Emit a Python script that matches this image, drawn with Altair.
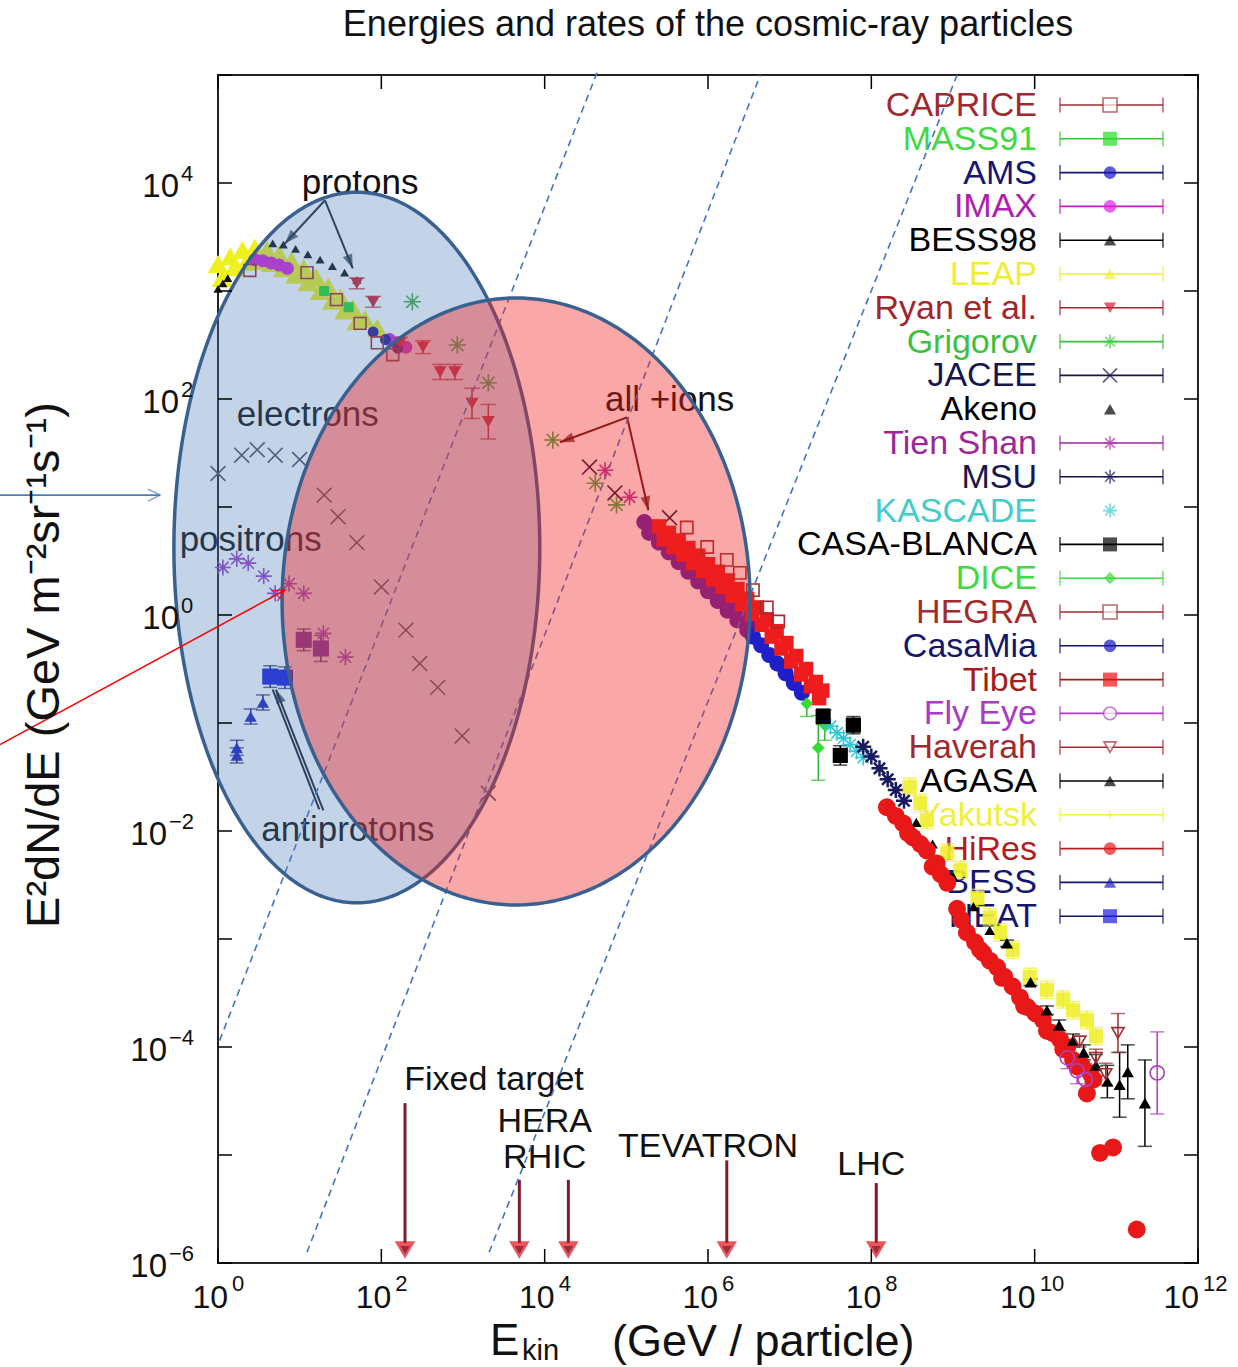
import math
import numpy as np
import pandas as pd
import altair as alt

# ---------------- layout ----------------
W, H = 980, 1188
LX0, LX1 = 0, 12          # log10 of x-domain (GeV)
LY0, LY1 = -6, 5          # log10 of y-domain
PXD = W / (LX1 - LX0)
PYD = H / (LY1 - LY0)
FONT = "Liberation Sans"

# ---------------- data (log10 E_kin [GeV], log10 E^2 dN/dE) ----------------
# protons / low energy
BESS98_LX = [0.00, 0.06, 0.12, 0.67, 0.80, 0.95, 1.10, 1.25, 1.40, 1.55, 1.70]
BESS98_LY = [3.02, 3.07, 3.12, 3.44, 3.43, 3.39, 3.34, 3.29, 3.23, 3.17, 3.10]
LEAP_LX = [0.00, 0.15, 0.30, 0.45, 0.60, 0.75, 0.90, 1.05, 1.20, 1.35, 1.50, 1.65, 1.80, 1.95,
           0.05, 0.20, 0.35, 0.50, 0.65, 0.80, 0.95, 1.10, 1.25, 1.40, 1.55, 1.70]
LEAP_LY = [3.25, 3.32, 3.38, 3.40, 3.38, 3.34, 3.28, 3.21, 3.13, 3.04, 2.94, 2.84, 2.74, 2.66,
           3.12, 3.22, 3.27, 3.28, 3.26, 3.21, 3.15, 3.08, 3.00, 2.91, 2.82, 2.72]
MASS91_LX = [1.30, 1.60]
MASS91_LY = [3.00, 2.85]
AMS_LX = [1.90, 2.05, 2.20]
AMS_LY = [2.62, 2.55, 2.47]
IMAX_LX = [0.45, 0.55, 0.65, 0.75, 0.85, 2.10, 2.20, 2.30]
IMAX_LY = [3.29, 3.28, 3.26, 3.24, 3.21, 2.55, 2.52, 2.48]
CAPRICE_LX = [0.39, 1.09, 1.45, 1.74, 1.95, 2.14]
CAPRICE_LY = [3.19, 3.17, 2.92, 2.70, 2.52, 2.41]
RYAN_LX = [1.70, 1.90, 2.23, 2.51, 2.72, 2.90, 3.11, 3.31]
RYAN_LY = [3.07, 2.90, 2.52, 2.48, 2.25, 2.25, 1.96, 1.79]
RYAN_ERR = [0.05, 0.05, 0.05, 0.06, 0.07, 0.07, 0.14, 0.16]
GRIGOROV_LX = [2.38, 2.93, 3.31, 4.10, 4.62, 4.88]
GRIGOROV_LY = [2.90, 2.50, 2.15, 1.62, 1.22, 1.02]

# electrons, positrons, antiprotons
ELECTRON_LX = [0.00, 0.29, 0.48, 0.70, 1.00, 1.30, 1.47, 1.70, 2.00, 2.30, 2.47, 2.69, 2.99, 3.31]
ELECTRON_LY = [1.31, 1.48, 1.53, 1.48, 1.44, 1.11, 0.91, 0.67, 0.26, -0.14, -0.45, -0.67, -1.12, -1.65]
POSITRON_LX = [0.06, 0.23, 0.37, 0.56, 0.70, 0.87, 1.05, 1.29, 1.56]
POSITRON_LY = [0.44, 0.52, 0.48, 0.36, 0.20, 0.29, 0.20, -0.17, -0.39]
BESS_LX = [0.23, 0.23, 0.40, 0.55]
BESS_LY = [-1.23, -1.30, -0.94, -0.81]
BESS_ERR = [0.07, 0.07, 0.07, 0.07]
HEAT_LX = [0.64, 0.82]
HEAT_LY = [-0.57, -0.58]
HEAT_ERR = [0.10, 0.10]
PBAR2_LX = [1.05, 1.26]
PBAR2_LY = [-0.23, -0.31]
PBAR2_ERR = [0.10, 0.12]

# all particle / ions
JACEE_LX = [4.55, 4.86, 5.53]
JACEE_LY = [1.37, 1.13, 0.90]
TIENSHAN_LX = [4.74, 5.04]
TIENSHAN_LY = [1.34, 1.09]
TIBET_LX = [5.40, 5.52, 5.64, 5.76, 5.88, 6.00, 6.12, 6.24, 6.36, 6.48, 6.60, 6.72, 6.84, 6.96, 7.08, 7.20, 7.32, 7.40,
            5.46, 5.58, 5.70, 5.82, 5.94, 6.06, 6.18, 6.30, 6.42, 6.54, 6.66, 6.78, 6.90, 7.02, 7.14, 7.26, 7.36]
TIBET_LY = [0.82, 0.76, 0.69, 0.62, 0.55, 0.47, 0.40, 0.32, 0.24, 0.15, 0.07, -0.04, -0.15, -0.26, -0.38, -0.50, -0.62, -0.70,
            0.70, 0.63, 0.56, 0.48, 0.41, 0.33, 0.26, 0.18, 0.10, 0.01, -0.09, -0.20, -0.31, -0.43, -0.55, -0.66, -0.77]
VIOLET_LX = [5.22, 5.34, 5.46, 5.58, 5.70, 5.82, 5.94, 6.06, 6.18, 6.30, 6.42, 6.54,
             5.28, 5.40, 5.52, 5.64, 5.76, 5.88, 6.00, 6.12, 6.24, 6.36, 6.48]
VIOLET_LY = [0.86, 0.77, 0.68, 0.59, 0.50, 0.41, 0.32, 0.23, 0.14, 0.06, -0.03, -0.12,
             0.76, 0.67, 0.58, 0.49, 0.40, 0.31, 0.22, 0.13, 0.04, -0.05, -0.14]
CASAMIA_LX = [6.55, 6.65, 6.75, 6.85, 6.95, 7.05, 7.15]
CASAMIA_LY = [-0.20, -0.28, -0.37, -0.45, -0.54, -0.63, -0.72]
HEGRA_LX = [5.74, 5.99, 6.23, 6.39, 6.55, 6.72, 6.86]
HEGRA_LY = [0.81, 0.63, 0.51, 0.39, 0.23, 0.07, -0.06]
CASABLANCA_LX = [7.41, 7.62, 7.78]
CASABLANCA_LY = [-0.94, -1.30, -1.02]
CASABLANCA_ERR = [0.07, 0.09, 0.08]
DICE_LX = [7.21, 7.35, 7.43]
DICE_LY = [-0.82, -1.23, -1.02]
DICE_ERR = [0.12, 0.30, 0.14]
KASCADE_LX = [7.50, 7.58, 7.66, 7.74, 7.82, 7.90]
KASCADE_LY = [-1.03, -1.09, -1.14, -1.20, -1.26, -1.32]
MSU_LX = [7.90, 8.00, 8.10, 8.20, 8.30, 8.40]
MSU_LY = [-1.22, -1.31, -1.42, -1.52, -1.62, -1.72]
YAKUTSK_LX = [8.47, 8.60, 8.68, 8.93, 9.09, 9.30, 9.45, 9.58, 9.73, 9.94, 10.15, 10.35, 10.47, 10.64, 10.75]
YAKUTSK_LY = [-1.59, -1.74, -1.90, -2.20, -2.36, -2.62, -2.80, -2.94, -3.10, -3.35, -3.47, -3.56, -3.66, -3.75, -3.90]
AKENO_LX = [8.55, 8.75, 9.00, 9.25, 9.45]
AKENO_LY = [-1.92, -2.12, -2.42, -2.70, -2.92]
HIRES_LX = [8.19, 8.30, 8.39, 8.51, 8.60, 8.68, 8.75, 8.85, 8.93, 9.05, 9.17, 9.27, 9.37, 9.45, 9.54, 9.63,
            9.73, 9.82, 9.91, 10.01, 10.10, 10.22, 10.31, 10.40, 10.47, 10.57, 10.68, 10.64, 10.80, 10.96, 11.25,
            8.45, 8.80, 9.10, 9.33, 9.60, 9.87, 10.15, 10.35, 10.52, 10.72]
HIRES_LY = [-1.78, -1.86, -1.93, -2.06, -2.12, -2.18, -2.33, -2.40, -2.48, -2.72, -2.94, -3.03, -3.13, -3.20, -3.26, -3.35,
            -3.44, -3.54, -3.63, -3.69, -3.75, -3.87, -3.93, -4.00, -4.12, -4.16, -4.24, -4.43, -4.98, -4.93, -5.69,
            -2.02, -2.30, -2.82, -3.10, -3.36, -3.62, -3.85, -4.02, -4.18, -4.30]
AGASA_LX = [9.66, 9.95, 10.15, 10.30, 10.47, 10.60, 10.75, 10.89, 11.04, 11.14, 11.35]
AGASA_LY = [-3.04, -3.40, -3.66, -3.80, -3.94, -4.05, -4.17, -4.32, -4.35, -4.23, -4.52]
AGASA_ERR = [0.03, 0.03, 0.04, 0.05, 0.06, 0.07, 0.10, 0.15, 0.30, 0.25, 0.40]
HAVERAH_LX = [10.55, 10.75, 10.87, 11.02]
HAVERAH_LY = [-3.95, -4.10, -4.25, -3.87]
HAVERAH_ERR = [0.05, 0.08, 0.10, 0.18]
FLYEYE_LX = [10.40, 10.52, 10.62, 11.50]
FLYEYE_LY = [-4.10, -4.22, -4.30, -4.24]
FLYEYE_ERR = [0.10, 0.12, 0.15, 0.38]

# legend
LEG_NAMES = ["CAPRICE", "MASS91", "AMS", "IMAX", "BESS98", "LEAP", "Ryan et al.", "Grigorov", "JACEE",
             "Akeno", "Tien Shan", "MSU", "KASCADE", "CASA-BLANCA", "DICE", "HEGRA", "CasaMia", "Tibet",
             "Fly Eye", "Haverah", "AGASA", "Yakutsk", "HiRes", "BESS", "HEAT"]
LEG_TEXT_COLORS = ["#9e2a30", "#44d844", "#151575", "#b020b0", "#000000", "#eeee33", "#a3242c", "#3fbf3f",
                   "#15154f", "#000000", "#9a2898", "#15154f", "#44cccc", "#000000", "#44d844", "#a32b30",
                   "#151570", "#a01e1e", "#a83cc4", "#9e2a30", "#000000", "#eeee44", "#b01e1e", "#151570",
                   "#151570"]
LEG_SYM_COLORS = ["#a32b30", "#22dd22", "#1515c0", "#e020e0", "#000000", "#f0f030", "#d51d2a", "#33cc33",
                  "#1a1a50", "#000000", "#b030b0", "#1a1a60", "#30d0d0", "#000000", "#33dd33", "#a32b30",
                  "#1515c0", "#ee1111", "#b040c0", "#a32b30", "#000000", "#f0f040", "#e81818", "#2020c0",
                  "#1a1ae0"]
LEG_SHAPES = ["square", "square", "circle", "circle", "tri", "tri", "trid", "ast", "x", "tri", "ast", "ast",
              "ast", "square", "diamond", "square", "circle", "square", "circle", "trid", "tri", "plus",
              "circle", "tri", "square"]
LEG_STYLE = ["open", "fill", "fill", "fill", "fill", "fill", "fill", "line", "line", "fill", "line", "line",
             "line", "fill", "fill", "open", "fill", "fill", "open", "open", "fill", "line", "fill", "fill",
             "fill"]
LEG_BAR = [True] * 25
LEG_BAR[9] = False   # Akeno
LEG_BAR[12] = False  # KASCADE

# annotations
ELLIPSES = [  # centre and radii in decades
    dict(cx=1.70, cy=0.625, rx=2.24, ry=3.29, fill="#4F81BD", op=0.34),
    dict(cx=3.65, cy=0.125, rx=2.865, ry=2.81, fill="#F02323", op=0.40),
]
DASHED = [(0.02, -3.94, 4.64, 5.02), (1.09, -5.90, 6.64, 5.00), (3.32, -5.90, 9.05, 5.00)]
ACCEL_NAMES = ["Fixed target", "HERA", "RHIC", "TEVATRON", "LHC"]
ACCEL_LX = [2.29, 3.69, 4.29, 6.23, 8.06]
ACCEL_TOP = [-4.52, -5.23, -5.23, -5.05, -5.26]
ACCEL_TEXT = [("Fixed target", 3.38, -4.31), ("HERA", 4.00, -4.69), ("RHIC", 4.00, -5.03),
              ("TEVATRON", 6.00, -4.93), ("LHC", 8.00, -5.09)]
NOTE_TEXT = [("protons", 1.74, 4.00), ("electrons", 1.10, 1.85), ("positrons", 0.40, 0.69),
             ("antiprotons", 1.59, -1.99), ("all +ions", 5.53, 1.99)]

# ---------------- helpers ----------------
xsc = alt.Scale(type="log", domain=[10.0 ** LX0, 10.0 ** LX1], nice=False)
ysc = alt.Scale(type="log", domain=[10.0 ** LY0, 10.0 ** LY1], nice=False)


def XE(f="x"):
    return alt.X(f"{f}:Q", scale=xsc, axis=None)


def YE(f="y"):
    return alt.Y(f"{f}:Q", scale=ysc, axis=None)


ASTER = "M-1,0L1,0M0,-1L0,1M-0.7,-0.7L0.7,0.7M-0.7,0.7L0.7,-0.7"
XCROSS = "M-1,-1L1,1M-1,1L1,-1"
PLUS = "M-1,0L1,0M0,-1L0,1"
HBAR = "M-1,0L1,0"
VBAR = "M0,-1L0,1"
HEAD = "M0,0L-0.45,1.25L0.45,1.25Z"
VHEAD = "M-0.6,1.2L0,0L0.6,1.2"
SHAPES = {"square": "square", "circle": "circle", "tri": "triangle-up", "trid": "triangle-down",
          "diamond": "diamond", "ast": ASTER, "x": XCROSS, "plus": PLUS}


def frame(lx, ly):
    return pd.DataFrame({"x": [10.0 ** v for v in lx], "y": [10.0 ** v for v in ly]})


def points(lx, ly, shape, color, size, style="fill", sw=1.6, opacity=1.0):
    df = frame(lx, ly)
    if style == "fill":
        m = alt.Chart(df).mark_point(shape=shape, filled=True, color=color, size=size, opacity=opacity,
                                     strokeWidth=0)
    else:
        m = alt.Chart(df).mark_point(shape=shape, filled=False, color=color, size=size, opacity=opacity,
                                     strokeWidth=sw)
    return m.encode(x=XE(), y=YE())


def errbars(lx, ly, err, color, cap=12, sw=1.5):
    df = pd.DataFrame({"x": [10.0 ** v for v in lx],
                       "lo": [10.0 ** (a - e) for a, e in zip(ly, err)],
                       "hi": [10.0 ** (a + e) for a, e in zip(ly, err)]})
    base = alt.Chart(df)
    return [base.mark_rule(color=color, strokeWidth=sw).encode(x=XE(), y=YE("lo"), y2=alt.Y2("hi:Q")),
            base.mark_point(shape=HBAR, filled=False, color=color, size=cap * cap, strokeWidth=sw)
            .encode(x=XE(), y=YE("lo")),
            base.mark_point(shape=HBAR, filled=False, color=color, size=cap * cap, strokeWidth=sw)
            .encode(x=XE(), y=YE("hi"))]


def arrow(x0, y0, x1, y1, color, sw=2.0, hsize=500, open_head=False, hcolor=None):
    df = pd.DataFrame({"x": [10.0 ** x0], "y": [10.0 ** y0], "xe": [10.0 ** x1], "ye": [10.0 ** y1]})
    dxp = (x1 - x0) * PXD
    dyp = -(y1 - y0) * PYD
    ang = math.degrees(math.atan2(dxp, -dyp)) % 360
    shaft = alt.Chart(df).mark_rule(color=color, strokeWidth=sw).encode(
        x=XE(), y=YE(), x2=alt.X2("xe:Q"), y2=alt.Y2("ye:Q"))
    if open_head:
        head = alt.Chart(df).mark_point(shape=VHEAD, filled=False, color=hcolor or color, size=hsize,
                                        strokeWidth=sw, angle=ang)
    else:
        head = alt.Chart(df).mark_point(shape=HEAD, filled=True, color=hcolor or color, size=hsize,
                                        strokeWidth=0, angle=ang)
    return [shaft, head.encode(x=XE("xe"), y=YE("ye"))]


def note(text, lx, ly, size=35, color="#111111", align="center"):
    df = pd.DataFrame({"x": [10.0 ** lx], "y": [10.0 ** ly], "t": [text]})
    return alt.Chart(df).mark_text(font=FONT, fontSize=size, color=color, align=align,
                                   baseline="middle").encode(x=XE(), y=YE(), text="t:N")


def ptext(text, px, py, size, align="center", angle=0, color="#111111"):
    df = pd.DataFrame({"t": [text]})
    return alt.Chart(df).mark_text(font=FONT, fontSize=size, color=color, align=align, baseline="middle",
                                   angle=angle).encode(x=alt.value(px), y=alt.value(py), text="t:N")


layers = []

# ---------------- legend (drawn first, data goes over it) ----------------
LEG_Y0, LEG_DY = 30.0, 33.8
leg = pd.DataFrame({
    "name": LEG_NAMES, "tc": LEG_TEXT_COLORS, "sc": LEG_SYM_COLORS,
    "shape": [SHAPES[s] for s in LEG_SHAPES], "style": LEG_STYLE, "bar": LEG_BAR,
    "ly": [10.0 ** (LY1 - (LEG_Y0 + i * LEG_DY) / PYD) for i in range(len(LEG_NAMES))],
})
leg["bc"] = leg["tc"]
leg.loc[leg["name"].isin(["MASS91"]), "bc"] = "#33cc33"
leg.loc[leg["name"].isin(["IMAX"]), "bc"] = "#c020c0"
leg.loc[leg["name"].isin(["Yakutsk"]), "bc"] = "#f0f050"
leg["size"] = [196 if s in ("square", "ast", "x") else (160 if s == "circle" else (60 if s == "plus" else 150))
               for s in LEG_SHAPES]
LX_TXT, LX_B0, LX_B1, LX_SYM = 819, 842, 945, 892
barred = leg[leg["bar"]]
layers.append(alt.Chart(leg).mark_text(font=FONT, fontSize=34, align="right", baseline="middle", dy=1).encode(
    x=alt.value(LX_TXT), y=YE("ly"), text="name:N", color=alt.Color("tc:N", scale=None)))
layers.append(alt.Chart(barred).mark_rule(strokeWidth=1.6).encode(
    x=alt.value(LX_B0), x2=alt.value(LX_B1), y=YE("ly"), color=alt.Color("bc:N", scale=None)))
for xv in (LX_B0, LX_B1):
    layers.append(alt.Chart(barred).mark_point(shape=VBAR, filled=False, size=225, strokeWidth=1.6).encode(
        x=alt.value(xv), y=YE("ly"), color=alt.Color("bc:N", scale=None)))
fill_rows = leg[leg["style"] == "fill"]
open_rows = leg[leg["style"] == "open"]
line_rows = leg[leg["style"] == "line"]
layers.append(alt.Chart(fill_rows).mark_point(filled=True, strokeWidth=0).encode(
    x=alt.value(LX_SYM), y=YE("ly"), shape=alt.Shape("shape:N", scale=None),
    color=alt.Color("sc:N", scale=None), size=alt.Size("size:Q", scale=None)))
layers.append(alt.Chart(open_rows).mark_point(filled=True, strokeWidth=0, color="white").encode(
    x=alt.value(LX_SYM), y=YE("ly"), shape=alt.Shape("shape:N", scale=None), size=alt.Size("size:Q", scale=None)))
layers.append(alt.Chart(open_rows).mark_point(filled=False, strokeWidth=1.6).encode(
    x=alt.value(LX_SYM), y=YE("ly"), shape=alt.Shape("shape:N", scale=None),
    color=alt.Color("sc:N", scale=None), size=alt.Size("size:Q", scale=None)))
layers.append(alt.Chart(line_rows).mark_point(filled=False, strokeWidth=1.6).encode(
    x=alt.value(LX_SYM), y=YE("ly"), shape=alt.Shape("shape:N", scale=None),
    color=alt.Color("sc:N", scale=None), size=alt.Size("size:Q", scale=None)))

# ---------------- data ----------------
# error bars
layers += errbars(RYAN_LX, RYAN_LY, RYAN_ERR, "#c0202c", cap=16)
layers += errbars(BESS_LX, BESS_LY, BESS_ERR, "#1a1a70", cap=14)
layers += errbars(HEAT_LX, HEAT_LY, HEAT_ERR, "#1a1a70", cap=14)
layers += errbars(PBAR2_LX, PBAR2_LY, PBAR2_ERR, "#3a1a60", cap=14)
layers += errbars(CASABLANCA_LX, CASABLANCA_LY, CASABLANCA_ERR, "#000000", cap=14)
layers += errbars(DICE_LX, DICE_LY, DICE_ERR, "#33bb33", cap=14)
layers += errbars(YAKUTSK_LX, YAKUTSK_LY, [0.08] * len(YAKUTSK_LX), "#eeee40", cap=14)
layers += errbars(AGASA_LX, AGASA_LY, AGASA_ERR, "#000000", cap=14)
layers += errbars(HAVERAH_LX, HAVERAH_LY, HAVERAH_ERR, "#a32b30", cap=14)
layers += errbars(FLYEYE_LX, FLYEYE_LY, FLYEYE_ERR, "#b040c0", cap=14)

# protons
layers.append(points(LEAP_LX, LEAP_LY, "triangle-up", "#eef020", 430))
layers.append(points(MASS91_LX, MASS91_LY, "square", "#22dd22", 100))
layers.append(points(BESS98_LX, BESS98_LY, "triangle-up", "#111111", 80))
layers.append(points(IMAX_LX, IMAX_LY, "circle", "#d820d8", 170))
layers.append(points(AMS_LX, AMS_LY, "circle", "#2a1a90", 120))
layers.append(points(CAPRICE_LX, CAPRICE_LY, "square", "#a32b30", 140, style="open"))
layers.append(points(RYAN_LX, RYAN_LY, "triangle-down", "#d51d2a", 170))
layers.append(points(GRIGOROV_LX, GRIGOROV_LY, ASTER, "#40b040", 300, style="line"))
# electrons / positrons / antiprotons
layers.append(points(ELECTRON_LX, ELECTRON_LY, XCROSS, "#505064", 220, style="line"))
layers.append(points(POSITRON_LX, POSITRON_LY, ASTER, "#9a40c8", 260, style="line"))
layers.append(points(BESS_LX, BESS_LY, "triangle-up", "#2020c0", 150))
layers.append(points(HEAT_LX, HEAT_LY, "square", "#1a1ae0", 260))
layers.append(points(PBAR2_LX, PBAR2_LY, "square", "#6a28a8", 260))
# all particle
layers.append(points(JACEE_LX, JACEE_LY, XCROSS, "#2a1030", 220, style="line"))
layers.append(points(TIENSHAN_LX, TIENSHAN_LY, ASTER, "#c030a0", 260, style="line"))
layers.append(points(VIOLET_LX, VIOLET_LY, "circle", "#5a1ea6", 260))
layers.append(points(CASAMIA_LX, CASAMIA_LY, "circle", "#1f1fc8", 260))
layers.append(points(TIBET_LX, TIBET_LY, "square", "#ee1c1c", 210))
layers.append(points(HEGRA_LX, HEGRA_LY, "square", "#a32b30", 150, style="open"))
layers.append(points(DICE_LX, DICE_LY, "diamond", "#33dd33", 160))
layers.append(points(KASCADE_LX, KASCADE_LY, ASTER, "#30c8d8", 260, style="line"))
layers.append(points(MSU_LX, MSU_LY, ASTER, "#1a1a60", 260, style="line", sw=2.5))
layers.append(points(CASABLANCA_LX, CASABLANCA_LY, "square", "#000000", 230))
layers.append(points(YAKUTSK_LX, YAKUTSK_LY, "square", "#f0f030", 200, opacity=0.9))
layers.append(points(AKENO_LX, AKENO_LY, "triangle-up", "#000000", 110))
layers.append(points(HIRES_LX, HIRES_LY, "circle", "#e81818", 320))
layers.append(points(AGASA_LX, AGASA_LY, "triangle-up", "#000000", 150))
layers.append(points(HAVERAH_LX, HAVERAH_LY, "triangle-down", "#a32b30", 150, style="open"))
layers.append(points(FLYEYE_LX, FLYEYE_LY, "circle", "#b040c0", 200, style="open"))

# ---------------- annotations ----------------
for t, lx, ly in NOTE_TEXT:
    layers.append(note(t, lx, ly))
layers += arrow(1.31, 3.84, 0.82, 3.44, "#1e2638")
layers += arrow(1.31, 3.84, 1.65, 3.21, "#1e2638")
layers += arrow(5.01, 1.83, 4.19, 1.60, "#5a1010")
layers += arrow(5.01, 1.83, 5.27, 0.97, "#5a1010")
layers += arrow(1.29, -1.81, 0.71, -0.69, "#1a2030")
layers += arrow(1.24, -1.80, 0.67, -0.69, "#1a2030", hsize=10)

for t, lx, ly in ACCEL_TEXT:
    layers.append(note(t, lx, ly, size=34))
acc = pd.DataFrame({"x": [10.0 ** v for v in ACCEL_LX], "top": [10.0 ** v for v in ACCEL_TOP],
                    "bot": [10.0 ** (LY0 + 20 / PYD)] * len(ACCEL_LX),
                    "head": [10.0 ** (LY0 + 13 / PYD)] * len(ACCEL_LX)})
layers.append(alt.Chart(acc).mark_rule(color="#7b1c2e", strokeWidth=3).encode(
    x=XE(), y=YE("top"), y2=alt.Y2("bot:Q")))
layers.append(alt.Chart(acc).mark_point(shape="triangle-down", filled=True, color="#e0101a", size=420,
                                        strokeWidth=0).encode(x=XE(), y=YE("head")))
layers.append(alt.Chart(acc).mark_point(shape="triangle-down", filled=True, color="#7b1c2e", size=90,
                                        strokeWidth=0).encode(x=XE(), y=YE("head")))

# dashed luminosity lines
dash = pd.DataFrame({"x": [10.0 ** d[0] for d in DASHED], "y": [10.0 ** d[1] for d in DASHED],
                     "xe": [10.0 ** d[2] for d in DASHED], "ye": [10.0 ** d[3] for d in DASHED]})
layers.append(alt.Chart(dash).mark_rule(color="#4472C4", strokeWidth=1.6, strokeDash=[7, 5]).encode(
    x=XE(), y=YE(), x2=alt.X2("xe:Q"), y2=alt.Y2("ye:Q")))

# ellipses
for e in ELLIPSES:
    t = np.linspace(0, np.pi, 241)
    edf = pd.DataFrame({"x": 10.0 ** (e["cx"] + e["rx"] * np.cos(t)),
                        "y": 10.0 ** (e["cy"] + e["ry"] * np.sin(t)),
                        "y2": 10.0 ** (e["cy"] - e["ry"] * np.sin(t))})
    layers.append(alt.Chart(edf).mark_area(fill=e["fill"], fillOpacity=e["op"], stroke="#3A6090",
                                           strokeOpacity=1, strokeWidth=3.5).encode(
        x=XE(), y=YE(), y2=alt.Y2("y2:Q")))

# arrows coming from outside the plot (left)
layers += arrow(-2.67, 1.11, -0.71, 1.11, "#4a7ebb", sw=1.6, hsize=400, open_head=True)
layers += arrow(-2.67, -1.20, 0.82, 0.23, "#ff0000", sw=1.6, hsize=400, open_head=True)

# ---------------- frame ticks & labels ----------------
ydec = pd.DataFrame({"y": [10.0 ** k for k in range(LY0, LY1 + 1)]})
xdec = pd.DataFrame({"x": [10.0 ** k for k in range(LX0, LX1 + 1, 2)]})
TK = 14
layers.append(alt.Chart(ydec).mark_rule(color="black", strokeWidth=1.5).encode(
    y=YE(), x=alt.value(0), x2=alt.value(TK)))
layers.append(alt.Chart(ydec).mark_rule(color="black", strokeWidth=1.5).encode(
    y=YE(), x=alt.value(W - TK), x2=alt.value(W)))
layers.append(alt.Chart(xdec).mark_rule(color="black", strokeWidth=1.5).encode(
    x=XE(), y=alt.value(H), y2=alt.value(H - TK)))
layers.append(alt.Chart(xdec).mark_rule(color="black", strokeWidth=1.5).encode(
    x=XE(), y=alt.value(0), y2=alt.value(TK)))

YLAB_POS = ["4", "2", "0"]
YLAB_NEG = ["\u22122", "\u22124", "\u22126"]
ypos = pd.DataFrame({"y": [1e4, 1e2, 1e0], "e": YLAB_POS, "b": ["10"] * 3})
yneg = pd.DataFrame({"y": [1e-2, 1e-4, 1e-6], "e": YLAB_NEG, "b": ["10"] * 3})
for df_, xb in ((ypos, -39), (yneg, -51)):
    layers.append(alt.Chart(df_).mark_text(font=FONT, fontSize=33, align="right", baseline="middle", dy=4,
                                           color="#111").encode(x=alt.value(xb), y=YE(), text="b:N"))
    layers.append(alt.Chart(df_).mark_text(font=FONT, fontSize=22, align="left", baseline="middle", dy=-9,
                                           color="#111").encode(x=alt.value(xb + 2), y=YE(), text="e:N"))
XLAB_1 = ["0", "2", "4", "6", "8"]
XLAB_2 = ["10", "12"]
x1 = pd.DataFrame({"x": [10.0 ** int(s) for s in XLAB_1], "e": XLAB_1, "b": ["10"] * 5})
x2 = pd.DataFrame({"x": [10.0 ** int(s) for s in XLAB_2], "e": XLAB_2, "b": ["10"] * 2})
for df_, db, de in ((x1, 10, 14), (x2, 1, 5)):
    layers.append(alt.Chart(df_).mark_text(font=FONT, fontSize=32, align="right", baseline="middle", dx=db,
                                           color="#111").encode(x=XE(), y=alt.value(H + 35), text="b:N"))
    layers.append(alt.Chart(df_).mark_text(font=FONT, fontSize=22, align="left", baseline="middle", dx=de,
                                           color="#111").encode(x=XE(), y=alt.value(H + 21), text="e:N"))

# titles
layers.append(ptext("Energies and rates of the cosmic-ray particles", W / 2, -50, 36))
layers.append(ptext("E\u00b2dN/dE  (GeV m\u207b\u00b2sr\u207b\u00b9s\u207b\u00b9)", -173, 590, 47, angle=270))
layers.append(ptext("E", 272, H + 79, 44, align="left"))
layers.append(ptext("kin", 304, H + 88, 29, align="left"))
layers.append(ptext("(GeV / particle)", 394, H + 79, 45, align="left"))

chart = alt.layer(*layers).properties(
    width=W, height=H,
    autosize=alt.AutoSizeParams(type="none"),
    padding={"left": 218, "top": 75, "right": 40, "bottom": 104},
    background="white",
).configure_view(stroke="#222222", strokeWidth=2)

chart.save("out.html", embed_options={"renderer": "svg", "actions": False})
